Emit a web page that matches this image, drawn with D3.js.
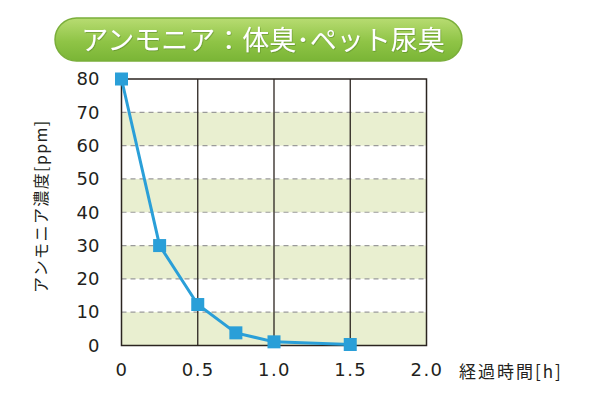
<!DOCTYPE html>
<html>
<head>
<meta charset="utf-8">
<script src="https://cdn.jsdelivr.net/npm/d3@7"></script>
<style>
  body { margin: 0; background: #fff; }
  svg { display: block; font-family: "Noto Sans CJK JP", "Liberation Sans", sans-serif; }
</style>
</head>
<body>
<svg id="chart"></svg>
<script>
const titleText = "アンモニア：体臭･ペット尿臭";
const yLabel = "アンモニア濃度[ppm]";
const xLabel = "経過時間[h]";
const hours = [0, 0.25, 0.5, 0.75, 1.0, 1.5];
const ppm = [80, 30, 12.3, 3.8, 1.1, 0.3];
const xTicks = [0, 0.5, 1.0, 1.5, 2.0];
const yTicks = [0, 10, 20, 30, 40, 50, 60, 70, 80];
const bands = [[0, 10], [20, 30], [40, 50], [60, 70]];

const width = 606, height = 403;
const margin = { top: 79, left: 121.5, bottom: 57.5, right: 179.5 };
const iwidth = width - margin.left - margin.right;
const iheight = height - margin.top - margin.bottom;

const svg = d3.select("#chart").attr("width", width).attr("height", height);

// title pill
const defs = svg.append("defs");
const grad = defs.append("linearGradient").attr("id", "pill").attr("x1", 0).attr("y1", 0).attr("x2", 0).attr("y2", 1);
grad.append("stop").attr("offset", "0%").attr("stop-color", "#b8dc72");
grad.append("stop").attr("offset", "55%").attr("stop-color", "#8fc446");
grad.append("stop").attr("offset", "100%").attr("stop-color", "#7ab536");
const shadow = defs.append("filter").attr("id", "tshadow");
shadow.append("feDropShadow").attr("dx", 0.6).attr("dy", 0.8).attr("stdDeviation", 0.6)
  .attr("flood-color", "#4c7a1c").attr("flood-opacity", 0.6);

svg.append("rect")
  .attr("x", 55).attr("y", 18).attr("width", 407).attr("height", 43)
  .attr("rx", 21.5).attr("ry", 21.5)
  .attr("fill", "url(#pill)")
  .attr("stroke", "#7aae3a").attr("stroke-width", 1.5);

svg.append("text")
  .attr("x", 263).attr("y", 50)
  .attr("text-anchor", "middle")
  .attr("fill", "#fff")
  .attr("font-size", 27)
  .attr("filter", "url(#tshadow)")
  .text(titleText);

const x = d3.scaleLinear().domain([0, 2]).range([0, iwidth]);
const y = d3.scaleLinear().domain([0, 80]).range([iheight, 0]);

const g = svg.append("g").attr("transform", `translate(${margin.left},${margin.top})`);

// shaded bands
g.selectAll("rect.band").data(bands).enter().append("rect")
  .attr("class", "band")
  .attr("x", 0).attr("width", iwidth)
  .attr("y", d => y(d[1]))
  .attr("height", d => y(d[0]) - y(d[1]))
  .attr("fill", "#e9efd0");

// dashed horizontal grid
g.selectAll("line.hgrid").data(yTicks.filter(t => t > 0 && t < 80)).enter().append("line")
  .attr("class", "hgrid")
  .attr("x1", 0).attr("x2", iwidth)
  .attr("y1", d => y(d)).attr("y2", d => y(d))
  .attr("stroke", "#9a9a9a").attr("stroke-width", 1.2)
  .attr("stroke-dasharray", "5,4");

// vertical grid
g.selectAll("line.vgrid").data(xTicks.filter(t => t > 0 && t < 2)).enter().append("line")
  .attr("class", "vgrid")
  .attr("x1", d => x(d)).attr("x2", d => x(d))
  .attr("y1", 0).attr("y2", iheight)
  .attr("stroke", "#2b2420").attr("stroke-width", 1.3);

// frame
g.append("rect")
  .attr("x", 0).attr("y", 0).attr("width", iwidth).attr("height", iheight)
  .attr("fill", "none").attr("stroke", "#2b2420").attr("stroke-width", 1.5);

// axes (labels only)
const yAxis = g.append("g").call(d3.axisLeft(y).tickValues(yTicks).tickSize(0).tickPadding(22));
yAxis.select(".domain").remove();
yAxis.selectAll("text").attr("font-size", 18).attr("fill", "#231f20")
  .attr("font-family", "'DejaVu Sans', sans-serif");

const xAxis = g.append("g").attr("transform", `translate(0,${iheight})`)
  .call(d3.axisBottom(x).tickValues(xTicks).tickSize(0).tickPadding(18)
    .tickFormat(d => d === 0 ? "0" : d3.format(".1f")(d)));
xAxis.select(".domain").remove();
xAxis.selectAll("text").attr("font-size", 18).attr("fill", "#231f20")
  .attr("letter-spacing", 1.5)
  .attr("font-family", "'DejaVu Sans', sans-serif");

// axis titles
svg.append("text")
  .attr("transform", `translate(47,${margin.top + iheight / 2 - 6}) rotate(-90)`)
  .attr("text-anchor", "middle")
  .attr("font-size", 16).attr("letter-spacing", 1.4).attr("fill", "#231f20")
  .text(yLabel);

svg.append("text")
  .attr("x", 459).attr("y", margin.top + iheight + 32)
  .attr("font-size", 17).attr("letter-spacing", 2).attr("fill", "#231f20")
  .text(xLabel);

// data line and markers
const pts = hours.map((h, i) => [h, ppm[i]]);
g.append("path")
  .datum(pts)
  .attr("fill", "none")
  .attr("stroke", "#2a9fd8").attr("stroke-width", 3)
  .attr("d", d3.line().x(d => x(d[0])).y(d => y(d[1])));

const ms = 13;
g.selectAll("rect.pt").data(pts).enter().append("rect")
  .attr("class", "pt")
  .attr("x", d => x(d[0]) - ms / 2).attr("y", d => y(d[1]) - ms / 2)
  .attr("width", ms).attr("height", ms)
  .attr("fill", "#2a9fd8");
</script>
</body>
</html>
